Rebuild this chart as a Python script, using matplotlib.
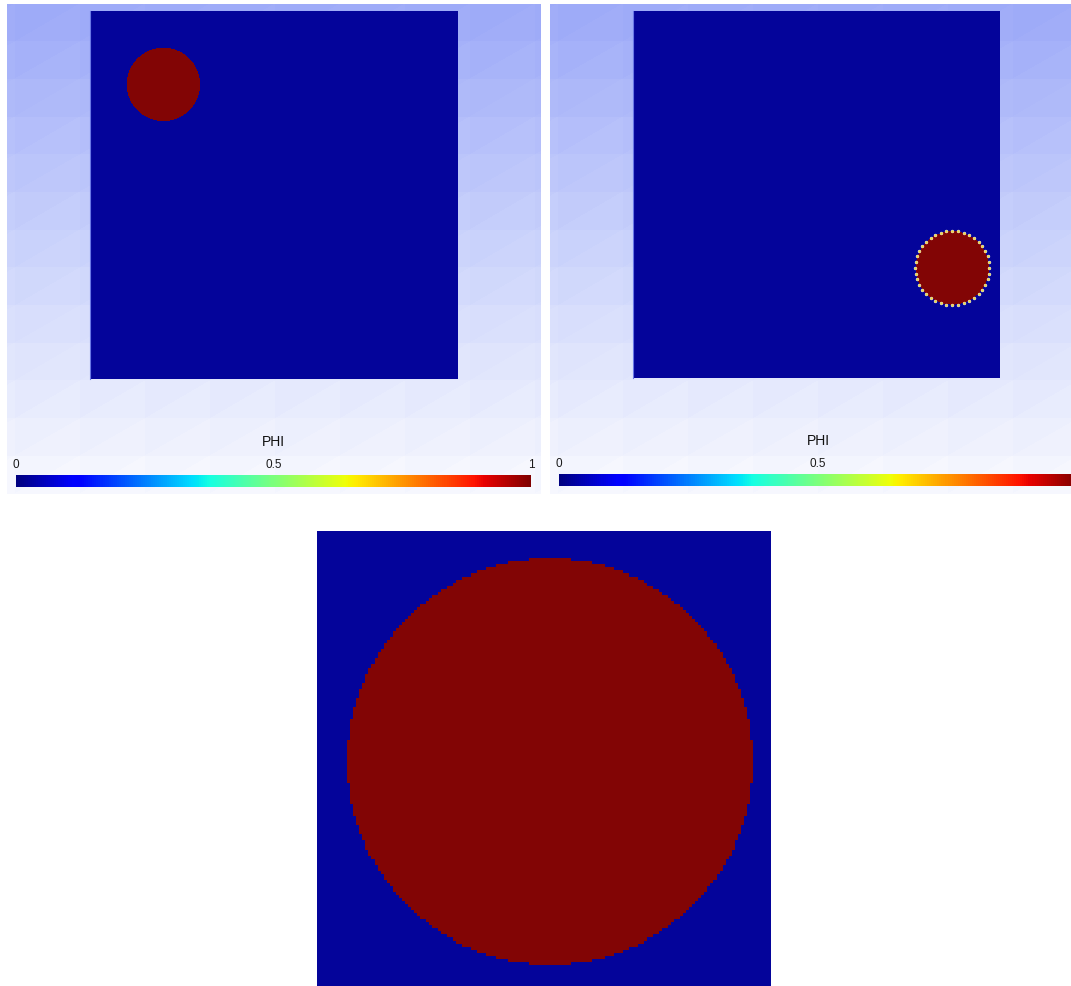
import numpy as np
import matplotlib
matplotlib.use("Agg")
import matplotlib.pyplot as plt
from matplotlib.colors import ListedColormap, LinearSegmentedColormap, Normalize
from matplotlib.cm import ScalarMappable
import matplotlib.tri as mtri

plt.rcParams['font.family'] = ['Liberation Sans', 'DejaVu Sans']

W, H = 1071, 987

# phi field: circle of phi=1 in a unit square, phi=0 elsewhere
field_name = "PHI"
cbar_ticks = [0, 0.5, 1]
cbar_ticklabels = ["0", "0.5", "1"]
circle_start = (0.2, 0.8)      # left view, initial position
circle_end = (0.87, 0.3)       # right view, advected position
circle_radius = 0.1
zoom_center = (0.5133, 0.4933)  # bottom view (zoom on the circle)
zoom_radius = 0.446
fine_cells = 367
zoom_cells = 150
n_marks = 40                   # dotted outline markers in right view

blue = "#04049A"
red = "#820505"
field_cmap = ListedColormap([blue, red])
bg_cmap = LinearSegmentedColormap.from_list("bg", ["#9CA9F8", "#CBD3FB", "#F8F9FE"])


def px_axes(x0, y0, x1, y1, z=1):
    # pixel box (from top left) -> figure axes
    return fig.add_axes([x0 / W, 1 - y1 / H, (x1 - x0) / W, (y1 - y0) / H], zorder=z)


def phi_field(center, r, n):
    c = (np.arange(n) + 0.5) / n
    xx, yy = np.meshgrid(c, c)
    return ((xx - center[0]) ** 2 + (yy - center[1]) ** 2 <= r ** 2).astype(float)


def background(ax, w, h):
    # shaded mesh behind the domain (banded, split diagonally)
    xs = np.arange(-57, w + 66, 65.0)
    ys = np.linspace(0, h, 14)
    gx, gy = np.meshgrid(xs, ys)
    nx = len(xs)
    tris = []
    vals = []
    for j in range(len(ys) - 1):
        for i in range(nx - 1):
            a = j * nx + i
            b = a + 1
            c = a + nx
            d = c + 1
            tris.append([a, b, c])
            vals.append((ys[j] + ys[j] + ys[j + 1]) / 3 / h - 0.003)
            tris.append([b, d, c])
            vals.append((ys[j] + ys[j + 1] + ys[j + 1]) / 3 / h)
    tri = mtri.Triangulation(gx.ravel(), gy.ravel(), np.array(tris))
    ax.tripcolor(tri, facecolors=np.array(vals), cmap=bg_cmap, vmin=0, vmax=1,
                 shading='flat', edgecolors='none', antialiased=False)
    ax.set_xlim(0, w)
    ax.set_ylim(h, 0)
    ax.axis('off')


def domain(ax, field):
    ax.imshow(field, origin='lower', extent=[0, 1, 0, 1], cmap=field_cmap,
              vmin=0, vmax=1, interpolation='nearest', aspect='auto')
    ax.set_xlim(0, 1)
    ax.set_ylim(0, 1)
    ax.set_xticks([])
    ax.set_yticks([])
    for s in ['top', 'right', 'bottom']:
        ax.spines[s].set_visible(False)
    ax.spines['left'].set_color('#6A78E6')
    ax.spines['left'].set_linewidth(0.8)


def colorbar(box, text_y):
    cax = px_axes(*box, z=3)
    cb = fig.colorbar(ScalarMappable(norm=Normalize(0, 1), cmap='jet'), cax=cax,
                      orientation='horizontal', ticks=cbar_ticks)
    cb.set_ticklabels(cbar_ticklabels)
    cb.outline.set_visible(False)
    cax.xaxis.set_ticks_position('top')
    cax.tick_params(length=0, pad=3.5, labelsize=8.5, labelcolor='#1a1a1a')
    cax.text(0.5, text_y, field_name, transform=cax.transAxes, ha='center',
             va='center', fontsize=10, color='#111111')
    return cb


fig = plt.figure(figsize=(W / 100, H / 100), dpi=100)

# top left: initial state
bg1 = px_axes(7, 5, 541, 495, z=0)
background(bg1, 534, 490)
ax1 = px_axes(90, 12, 457, 380, z=2)
domain(ax1, phi_field(circle_start, circle_radius, fine_cells))
colorbar((16, 476, 531, 488), 3.85)

# top right: final state with interface markers
bg2 = px_axes(550, 5, 1084, 495, z=0)
background(bg2, 534, 490)
ax2 = px_axes(633, 12, 1000, 379, z=2)
domain(ax2, phi_field(circle_end, circle_radius, fine_cells))
ang = np.linspace(0, 2 * np.pi, n_marks, endpoint=False)
ax2.plot(circle_end[0] + 1.01 * circle_radius * np.cos(ang),
         circle_end[1] + 1.01 * circle_radius * np.sin(ang),
         ls='none', marker='o', ms=2.0, mfc='#EEDD33', mec='#FFF8D0', mew=0.4)
colorbar((559, 475, 1077, 487), 3.85)

# bottom: zoom on the circle
ax3 = px_axes(317, 532, 771, 987, z=2)
domain(ax3, phi_field(zoom_center, zoom_radius, zoom_cells))
ax3.spines['left'].set_visible(False)

fig.savefig("out.png", dpi=100)
